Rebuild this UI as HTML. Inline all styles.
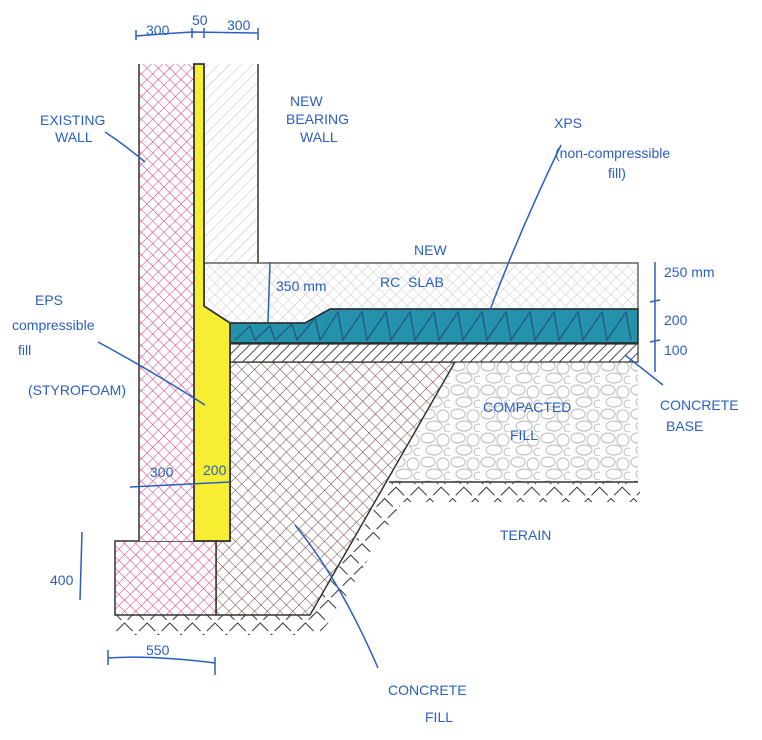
<!DOCTYPE html>
<html><head><meta charset="utf-8"><style>
html,body{margin:0;padding:0;background:#fff;}
svg{display:block}
text{font-family:"Liberation Sans",sans-serif;fill:#2a5fc0;font-size:14px}
</style></head><body>
<svg width="762" height="740" viewBox="0 0 762 740" xmlns="http://www.w3.org/2000/svg">
<defs>
<pattern id="pink" width="8" height="8" patternUnits="userSpaceOnUse" patternTransform="rotate(45)">
<rect width="8" height="8" fill="#fff"/><path d="M0 0H8M0 0V8" stroke="#d9347a" stroke-width="1"/></pattern>
<pattern id="brown" width="9" height="9" patternUnits="userSpaceOnUse" patternTransform="rotate(45)">
<rect width="9" height="9" fill="#fff"/><path d="M0 0H9M0 0V9" stroke="#6e4040" stroke-width="1"/></pattern>
<pattern id="grey" width="8" height="8" patternUnits="userSpaceOnUse" patternTransform="rotate(45)">
<rect width="8" height="8" fill="#fff"/><path d="M0 0H8M0 0V8" stroke="#bbb" stroke-width="0.8"/></pattern>
<pattern id="diag" width="8" height="8" patternUnits="userSpaceOnUse" patternTransform="rotate(45)">
<rect width="8" height="8" fill="#fff"/><path d="M0 0V8" stroke="#aaa" stroke-width="0.8"/></pattern>
<pattern id="base" width="7" height="7" patternUnits="userSpaceOnUse" patternTransform="rotate(45)">
<rect width="7" height="7" fill="#fff"/><path d="M0 0V7" stroke="#222" stroke-width="1.6"/></pattern>
<pattern id="stone" width="30" height="24" patternUnits="userSpaceOnUse">
<rect width="30" height="24" fill="#fff"/>
<ellipse cx="8" cy="6" rx="7" ry="5" fill="none" stroke="#bbb"/>
<ellipse cx="23" cy="8" rx="6" ry="6" fill="none" stroke="#bbb"/>
<ellipse cx="14" cy="18" rx="8" ry="5" fill="none" stroke="#bbb"/>
<ellipse cx="28" cy="20" rx="4" ry="4" fill="none" stroke="#bbb"/></pattern>
<pattern id="terr" width="16" height="16" patternUnits="userSpaceOnUse" patternTransform="rotate(45)">
<path d="M0 0H12M0 0V12" stroke="#333" stroke-width="2"/></pattern>
</defs>

<!-- terrain -->
<rect x="115" y="615" width="200" height="20" fill="url(#terr)"/>
<polygon points="390,483 640,483 640,502 402,502 335,615 318,635 310,615" fill="url(#terr)"/>

<!-- compacted fill -->
<polygon points="455,362 638,362 638,482 389,482" fill="url(#stone)"/>
<line x1="389" y1="482" x2="638" y2="482" stroke="#333" stroke-width="1.5"/>

<!-- concrete fill -->
<polygon points="230,362 455,362 310,615 216,615 216,541 230,541" fill="url(#brown)" stroke="#333" stroke-width="1.5"/>

<!-- footing -->
<rect x="115" y="541" width="101" height="74" fill="url(#pink)" stroke="#333" stroke-width="1.5"/>

<!-- existing wall -->
<rect x="139" y="64" width="55" height="477" fill="url(#pink)"/>
<line x1="139" y1="64" x2="139" y2="541" stroke="#333" stroke-width="1.5"/>

<!-- new wall -->
<rect x="204" y="64" width="54" height="199" fill="url(#diag)"/>
<line x1="258" y1="64" x2="258" y2="263" stroke="#333" stroke-width="1.5"/>

<!-- slab -->
<polygon points="204,263 638,263 638,309 330,309 305,323 230,323 204,306" fill="url(#grey)" stroke="#444" stroke-width="1.2"/>

<!-- XPS -->
<polygon points="230,323 305,323 330,309 638,309 638,343 230,343" fill="#2691ab" stroke="#222" stroke-width="1.5"/>
<polyline points="235,340 250,326 255,340 270,326 275,340 292,324 297,340 315,318 320,340 338,312 343,340 362,312 367,340 386,312 391,340 410,312 415,340 434,312 439,340 458,312 463,340 482,312 487,340 506,312 511,340 530,312 535,340 554,312 559,340 578,312 583,340 602,312 607,340 626,312 631,340" fill="none" stroke="#1b4f7a" stroke-width="1.1"/>

<!-- base -->
<rect x="230" y="344" width="408" height="18" fill="url(#base)" stroke="#333" stroke-width="1.2"/>

<!-- yellow EPS -->
<polygon points="194,64 204,64 204,306 230,323 230,541 194,541" fill="#f7ee32" stroke="#333" stroke-width="1.8"/>

<!-- dims -->
<g stroke="#2a5fc0" stroke-width="1.5" fill="none">
<path d="M136 36 Q160 34 192 32 L258 33"/><path d="M136 30V40M192 28V38M204 28V38M258 28V40"/>
<path d="M270 262 L268 322"/>
<path d="M655 262 V372"/><path d="M650 302 L660 300M650 342 L660 340"/>
<path d="M82 532 L80 600"/>
<path d="M108 658 Q150 655 215 663"/><path d="M108 650V665M215 657V675"/>
<path d="M130 487 L230 482"/>
<path d="M105 132 Q125 145 145 162"/>
<path d="M98 342 Q150 370 205 405"/>
<path d="M561 145 Q520 230 490 310"/>
<path d="M625 355 L663 385"/>
<path d="M295 525 Q340 580 378 668"/>
</g>

<!-- labels -->
<text x="40" y="125" font-size="13">EXISTING</text>
<text x="55" y="142" font-size="13">WALL</text>
<text x="290" y="106" font-size="13">NEW</text>
<text x="286" y="124" font-size="13">BEARING</text>
<text x="300" y="142" font-size="13">WALL</text>
<text x="554" y="128" font-size="18">XPS</text>
<text x="555" y="158" font-size="13">(non-compressible</text>
<text x="608" y="178" font-size="13">fill)</text>
<text x="414" y="255" font-size="13">NEW</text>
<text x="380" y="287" font-size="17">RC&#160;&#160;SLAB</text>
<text x="276" y="291" font-size="13">350 mm</text>
<text x="664" y="277" font-size="13">250 mm</text>
<text x="664" y="325" font-size="13">200</text>
<text x="664" y="355" font-size="13">100</text>
<text x="660" y="410" font-size="12">CONCRETE</text>
<text x="666" y="431" font-size="12">BASE</text>
<text x="483" y="412" font-size="16">COMPACTED</text>
<text x="510" y="440" font-size="16">FILL</text>
<text x="500" y="540" font-size="13">TERAIN</text>
<text x="35" y="305" font-size="17">EPS</text>
<text x="12" y="330" font-size="17">compressible</text>
<text x="18" y="355" font-size="17">fill</text>
<text x="28" y="395" font-size="14">(STYROFOAM)</text>
<text x="146" y="35" font-size="11">300</text>
<text x="192" y="25" font-size="11">50</text>
<text x="227" y="30" font-size="11">300</text>
<text x="150" y="477" font-size="13">300</text>
<text x="203" y="475" font-size="11">200</text>
<text x="50" y="585" font-size="12">400</text>
<text x="146" y="655" font-size="13">550</text>
<text x="388" y="695" font-size="18">CONCRETE</text>
<text x="425" y="722" font-size="18">FILL</text>
</svg>
</body></html>
